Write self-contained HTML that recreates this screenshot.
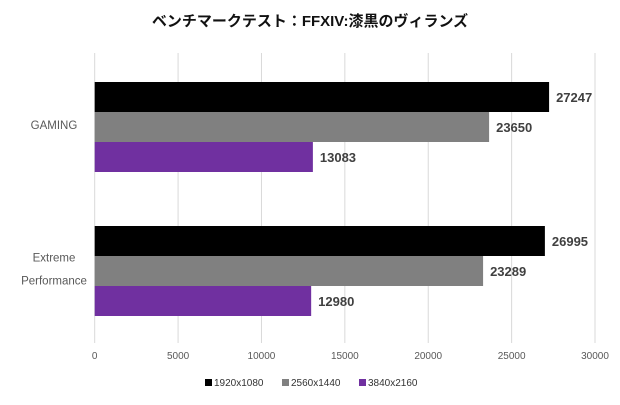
<!DOCTYPE html>
<html><head><meta charset="utf-8"><style>
body{margin:0;background:#fff;}
svg text{font-family:"Liberation Sans","Noto Sans CJK JP",sans-serif;}
</style></head><body>
<svg width="620" height="400">
<text x="310" y="26" text-anchor="middle" font-size="15" font-weight="bold" fill="#111">ベンチマークテスト：FFXIV:漆黒のヴィランズ</text>
<g id="grid"></g><g id="bars"></g><g id="labels"></g>
<g font-size="10" fill="#333">
<rect x="205" y="379" width="7" height="7" fill="#000"/><text x="214" y="386">1920x1080</text>
<rect x="282" y="379" width="7" height="7" fill="#808080"/><text x="291" y="386">2560x1440</text>
<rect x="359" y="379" width="7" height="7" fill="#7030a0"/><text x="368" y="386">3840x2160</text>
</g>
</svg>
<script>
const categories=["GAMING","Extreme Performance"];
const s1920=[27247,26995];
const s2560=[23650,23289];
const s3840=[13083,12980];
const ticks=[0,5000,10000,15000,20000,25000,30000];
const NS="http://www.w3.org/2000/svg";
const x0=94.7,x1=595,xmax=30000;
const X=v=>x0+(x1-x0)*v/xmax;
const groupTop=[82,226],bh=30;
function mk(t,a,p){const e=document.createElementNS(NS,t);for(const k in a)e.setAttribute(k,a[k]);p.appendChild(e);return e;}
const grid=document.getElementById('grid'),bars=document.getElementById('bars'),labels=document.getElementById('labels');
ticks.forEach(t=>{
 const l=mk('line',{x1:X(t),x2:X(t),y1:53,y2:343,stroke:'#d9d9d9','stroke-width':1},grid);
 
 
 const tx=mk('text',{x:X(t),y:359,'text-anchor':'middle','font-size':10,fill:'#595959'},labels);
 tx.textContent=t;
 
 
});
const series=[[s1920,'#000000'],[s2560,'#808080'],[s3840,'#7030a0']];
categories.forEach((c,i)=>{
 series.forEach(([arr,col],j)=>{
  const y=groupTop[i]+j*bh;
  const r=mk('rect',{x:x0,y:y,width:X(arr[i])-x0,height:bh,fill:col},bars);
  
  
  const t=mk('text',{x:X(arr[i])+7,y:y+bh/2+5,'font-size':13,'font-weight':'bold',fill:'#404040'},labels);
  t.textContent=arr[i];
  
  
 });
});
const cl=[[["GAMING"],125],[["Extreme","Performance"],269]];
cl.forEach(([lines,cy])=>{
 lines.forEach((s,k)=>{
  const t=mk('text',{x:54,y:cy+k*23-(lines.length-1)*11.5+4,'text-anchor':'middle','font-size':11.5,fill:'#595959'},labels);
  t.textContent=s;
  
  
 });
});
</script>
</body></html>
